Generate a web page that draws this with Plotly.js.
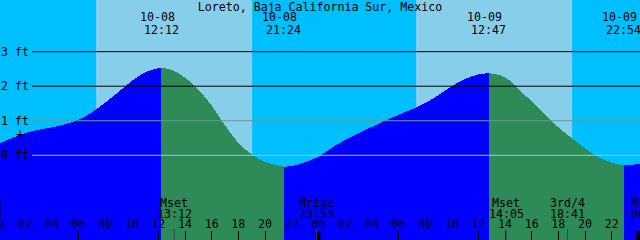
<!DOCTYPE html>
<html><head><meta charset="utf-8">
<script src="https://cdn.plot.ly/plotly-3.0.1.min.js"></script>
<style>html,body{margin:0;padding:0;background:#00bfff;overflow:hidden}#chart{width:640px;height:240px}
#chart path.js-fill{shape-rendering:crispEdges}</style>
</head><body><div id="chart"></div>
<script>
const chartTitle = "Loreto, Baja California Sur, Mexico";

// hours since 10-08 00:00, tide height in feet
const tideHours = [0,1,2,3,4,5,6,7,8,9,10,11,12.2,13,14,15,16,17,18,19,20,21.4,22,23,24,25,26,27,28,29,30,31,32,33,34,35,36,36.783,38,39,40,41,42,43,44,45,46,46.9,48.2];
const tideFeet  = [0.33,0.50,0.64,0.74,0.81,0.90,1.03,1.24,1.52,1.83,2.15,2.40,2.54,2.47,2.25,1.90,1.44,0.87,0.36,0.03,-0.19,-0.33,-0.31,-0.20,-0.04,0.22,0.44,0.64,0.82,1.00,1.17,1.33,1.51,1.74,2.00,2.21,2.34,2.38,2.26,1.92,1.56,1.18,0.81,0.50,0.20,-0.05,-0.21,-0.29,-0.25];

const extremeDates = ["10-08","10-08","10-09","10-09"];
const extremeTimes = ["12:12","21:24","12:47","22:54"];

const sunDates     = ["10-08","10-09"];
const sunriseTimes = ["07:20","07:20"];
const sunsetTimes  = ["19:02","19:02"];

const moonDates  = ["10-07","10-08","10-08","10-09","10-09","10-10"];
const moonTimes  = ["22:58","13:12","23:53","14:05","18:41","00:48"];
const moonEvents = ["Mrise","Mset","Mrise","Mset","3rd/4","Mrise"];

const levelFeet   = [0,1,2,3];
const levelLabels = ["0 ft","1 ft","2 ft","3 ft"];
const meanLevel   = 0.62;

const hourTickVals = [0,2,4,6,8,10,12,14,16,18,20,22,24,26,28,30,32,34,36,38,40,42,44,46,48];
const hourTickText = ["00","02","04","06","08","10","12","14","16","18","20","22","00","02","04","06","08","10","12","14","16","18","20","22","00"];
const midnightHours = [24,48];

const FONT = "DejaVu Sans Mono, monospace";
const FS = 11.6;
const RISE = '#0000ff', FALL = '#2e8b57';
const xRange = [0.125, 48.125];
const yRange = [-2.451, 4.495];

function toHours(date, time){
  const d = parseInt(date.slice(3),10) - 8;
  const [hh, mm] = time.split(":").map(Number);
  return d*24 + hh + mm/60;
}
function xFrac(h){ return (h - xRange[0])/(xRange[1]-xRange[0]); }

const extremeHours = extremeDates.map((d,i)=>toHours(d, extremeTimes[i]));
const bounds = [tideHours[0]].concat(extremeHours, [tideHours[tideHours.length-1]]);
const traces = [];
const shapes = [];
sunDates.forEach((d,i)=>{
  shapes.push({type:'rect', layer:'below', xref:'x', yref:'paper', x0:toHours(d,sunriseTimes[i]), x1:toHours(d,sunsetTimes[i]), y0:0, y1:1, fillcolor:'#87ceeb', line:{width:0}});
});
for(let s=0;s<bounds.length-1;s++){
  const a=bounds[s], b=bounds[s+1];
  const xs=[], ys=[];
  tideHours.forEach((h,i)=>{ if(h>=a-0.01 && h<=b+0.01){ xs.push(h); ys.push(tideFeet[i]); } });
  const rising = ys[ys.length-1] > ys[0];
  const col = rising ? RISE : FALL;
  traces.push({x:[xs[0],xs[xs.length-1]], y:[yRange[0],yRange[0]], mode:'lines', line:{width:0}, hoverinfo:'skip', showlegend:false});
  traces.push({x:xs, y:ys, mode:'lines', line:{width:0, shape:'spline', smoothing:1}, fill:'tonexty',
    fillcolor: col, hoverinfo:'skip', showlegend:false});
  if(s < bounds.length-2){
    shapes.push({type:'line', layer:'below', xref:'x', yref:'y', x0:xs[xs.length-1], x1:xs[xs.length-1], y0:yRange[0], y1:ys[ys.length-1]-0.03, line:{color:col, width:2}});
  }
}

const levelColor = {0:'#87cefa', 1:'#5f9f8f', 2:'#000000', 3:'#000000'};
levelFeet.forEach(v=>{
  shapes.push({type:'line', layer:'above', xref:'paper', yref:'y', x0:32/640, x1:1, y0:v, y1:v, line:{color:levelColor[v], width:1}});
});
midnightHours.forEach(h=>{
  shapes.push({type:'line', layer:'above', xref:'x', yref:'paper', x0:h, x1:h, y0:0, y1:9/240, line:{color:'#000', width:4}});
});
moonDates.forEach((d,i)=>{
  const h = toHours(d, moonTimes[i]);
  if(h>xRange[0] && h<xRange[1]){
    shapes.push({type:'line', layer:'above', xref:'x', yref:'paper', x0:h, x1:h, y0:0, y1:11/240, line:{color:'#444', width:1}});
  }
});

const annotations = [];
const txt = (o)=>Object.assign({showarrow:false, font:{family:FONT,size:FS,color:'#000'}, yref:'paper', yanchor:'middle', xanchor:'center'}, o);
levelFeet.forEach((v,i)=>{
  annotations.push(txt({xref:'paper', x:0, xanchor:'left', xshift:-1, yref:'y', y:v, text:levelLabels[i]}));
});
extremeDates.forEach((d,i)=>{
  const h = extremeHours[i];
  annotations.push(txt({xref:'x', x:h, xshift:-4, y:1-17.5/240, text:d}));
  annotations.push(txt({xref:'x', x:h, y:1-29.5/240, text:extremeTimes[i]}));
});
moonDates.forEach((d,i)=>{
  const h = toHours(d, moonTimes[i]);
  annotations.push(txt({xref:'paper', x:xFrac(h), y:1-202.5/240, text:moonEvents[i]}));
  annotations.push(txt({xref:'paper', x:xFrac(h), y:1-213.8/240, text:moonTimes[i]}));
});
annotations.push(txt({xref:'paper', x:xFrac(hourTickVals[0]), y:1-225.8/240, text:hourTickText[0]}));
annotations.push(txt({xref:'paper', x:19.5/640, yref:'y', y:meanLevel, text:'+', font:{family:FONT,size:14,color:'#000'}}));

const layout = {
  width:640, height:240, margin:{l:0,r:0,t:0,b:0,pad:0},
  paper_bgcolor:'#00bfff', plot_bgcolor:'#00bfff', showlegend:false,
  font:{family:FONT, size:FS, color:'#000'},
  title:{text:chartTitle, font:{family:FONT,size:FS,color:'#000'}, x:0.5, xanchor:'center', xref:'paper', y:1-6.5/240, yanchor:'middle', yref:'container'},
  xaxis:{range:xRange, tickmode:'array', tickvals:hourTickVals, ticktext:hourTickText, ticks:'inside', ticklen:9, tickwidth:1, tickcolor:'#000',
    tickfont:{family:FONT,size:FS,color:'#000'}, ticklabelstandoff:0.5,
    ticklabelposition:'inside', showgrid:false, zeroline:false, showline:false, fixedrange:true},
  yaxis:{range:yRange, showticklabels:false, ticks:'', showgrid:false, zeroline:false, showline:false, fixedrange:true},
  shapes:shapes, annotations:annotations
};
Plotly.newPlot('chart', traces, layout, {staticPlot:true, displayModeBar:false});
</script></body></html>
